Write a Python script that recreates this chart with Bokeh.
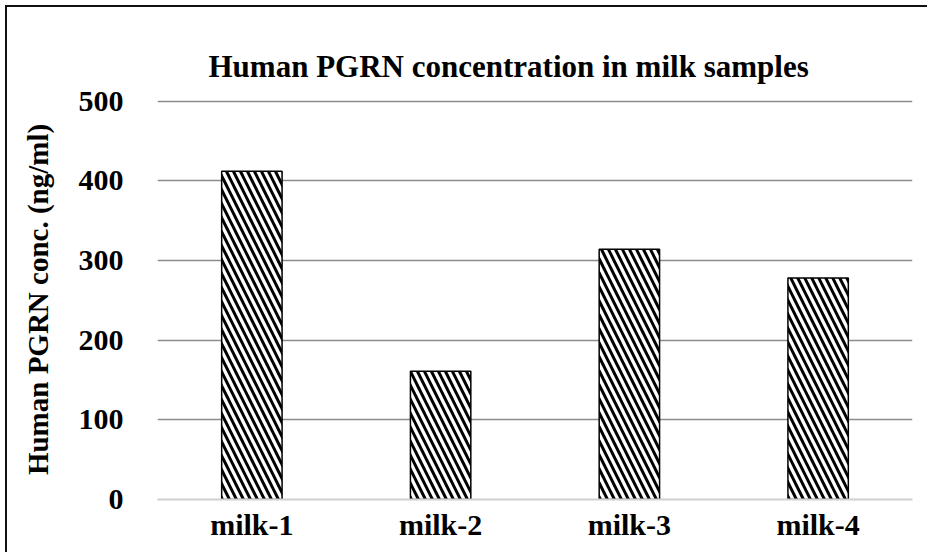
from bokeh.plotting import figure
from bokeh.layouts import column
from bokeh.embed import file_html
from bokeh.resources import INLINE
from bokeh.models import ColumnDataSource

samples = ["milk-1", "milk-2", "milk-3", "milk-4"]
pgrn = [412, 161, 314, 278]
y_ticks = [0, 100, 200, 300, 400, 500]

src = ColumnDataSource(dict(x=samples, top=pgrn))

FONT = "Liberation Serif"

p = figure(x_range=samples, y_range=(0, 502), width=920, height=545,
           output_backend="svg", toolbar_location=None,
           min_border_left=150, min_border_right=15,
           min_border_top=92, min_border_bottom=53)

p.vbar(x="x", top="top", width=0.32, source=src,
       fill_color="white", line_color="black", line_width=1.5,
       hatch_pattern="\\", hatch_color="black", hatch_weight=3, hatch_scale=14)

p.title.text = "Human PGRN concentration in milk samples"
p.title.align = "left"
p.title.offset = 51
p.title.text_font = FONT
p.title.text_font_style = "bold"
p.title.text_font_size = "31px"
p.title.text_color = "black"
p.title.standoff = 32

p.outline_line_color = None
p.background_fill_color = "white"
p.border_fill_color = "white"

p.xgrid.grid_line_color = None
p.ygrid.grid_line_color = "#8c8c8c"
p.ygrid.grid_line_width = 1.5
p.yaxis.ticker = y_ticks

p.yaxis.axis_line_color = None
p.yaxis.major_tick_line_color = None
p.yaxis.minor_tick_line_color = None
p.yaxis.major_tick_out = 0
p.yaxis.major_label_standoff = 34
p.yaxis.major_label_text_font = FONT
p.yaxis.major_label_text_font_style = "bold"
p.yaxis.major_label_text_font_size = "30px"
p.yaxis.major_label_text_color = "black"
p.yaxis.axis_label = "Human PGRN conc. (ng/ml)"
p.yaxis.axis_label_text_font = FONT
p.yaxis.axis_label_text_font_style = "bold"
p.yaxis.axis_label_text_font_size = "29px"
p.yaxis.axis_label_text_color = "black"
p.yaxis.axis_label_standoff = 22

p.xaxis.axis_line_color = "#d0d0d0"
p.xaxis.axis_line_width = 2
p.xaxis.major_tick_line_color = None
p.xaxis.minor_tick_line_color = None
p.xaxis.major_tick_out = 0
p.xaxis.major_label_standoff = 8
p.xaxis.major_label_text_font = FONT
p.xaxis.major_label_text_font_style = "bold"
p.xaxis.major_label_text_font_size = "30px"
p.xaxis.major_label_text_color = "black"

root = column(p, styles={"margin-left": "5px", "margin-top": "5px",
                         "border-left": "2px solid #111", "border-top": "2px solid #111"})

open("out.html", "w").write(file_html(root, INLINE))
